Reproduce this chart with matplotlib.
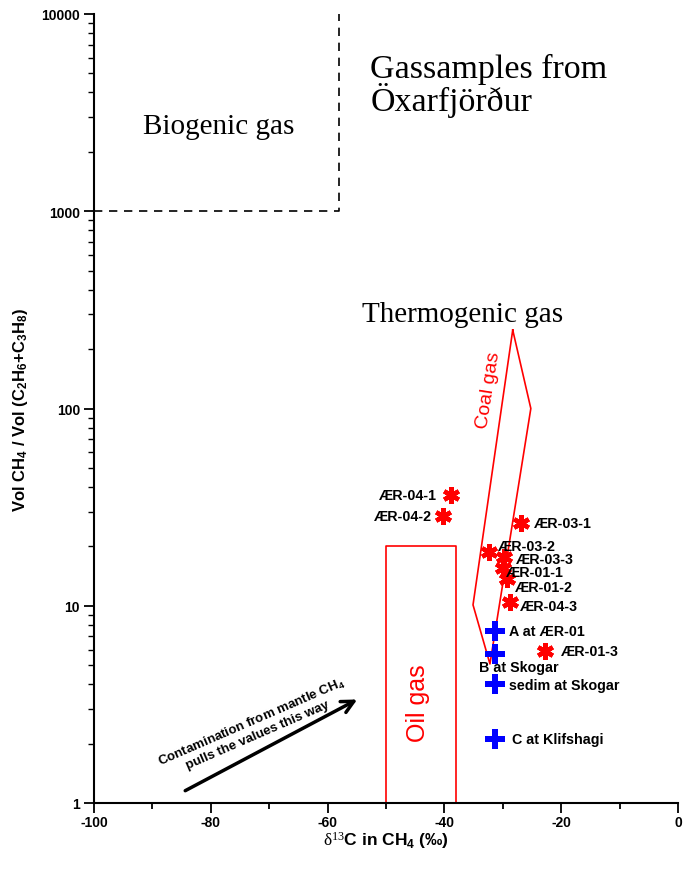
import matplotlib
matplotlib.use("Agg")
import matplotlib.pyplot as plt
from matplotlib.ticker import FixedLocator, LogLocator, NullFormatter, FixedFormatter

plt.rcParams['font.family'] = ['Liberation Sans', 'DejaVu Sans']
plt.rcParams['mathtext.fontset'] = 'custom'
plt.rcParams['mathtext.rm'] = 'Liberation Sans:bold'
plt.rcParams['mathtext.it'] = 'Liberation Sans:bold'
plt.rcParams['mathtext.bf'] = 'Liberation Sans:bold'
plt.rcParams['mathtext.sf'] = 'Liberation Serif'

# ---- data ----
star_labels = ['ÆR-04-1', 'ÆR-04-2', 'ÆR-03-1', 'ÆR-03-2', 'ÆR-03-3',
               'ÆR-01-1', 'ÆR-01-2', 'ÆR-04-3', 'ÆR-01-3']
star_d13c = [-38.9, -40.2, -26.9, -32.4, -29.8, -30.0, -29.3, -28.8, -22.7]
star_ratio = [36.4, 28.5, 26.3, 18.7, 17.6, 15.6, 13.7, 10.4, 5.9]

cross_labels = ['A at ÆR-01', 'B at Skogar', 'sedim at Skogar', 'C at Klifshagi']
cross_d13c = [-31.3, -31.3, -31.3, -31.3]
cross_ratio = [7.45, 5.69, 4.01, 2.11]

coal_x = [-28.3, -25.2, -32.2, -35.1, -28.3]
coal_y = [250, 100, 5.07, 10.1, 250]
oil_x = [-50, -50, -38, -38]
oil_y = [1, 20, 20, 1]
bio_x = [-100, -58, -58]
bio_y = [1000, 1000, 10000]

arrow_start = (-84.8, 1.137)
arrow_end = (-54.5, 3.4)

x_ticks = [-100, -80, -60, -40, -20, 0]
y_ticks = [1, 10, 100, 1000, 10000]

# label offsets in pixels (dx, dy) and alignment
star_offsets = [(-14, 0, 'right'), (-11, 0, 'right'), (13, 0, 'left'),
                (9, 6, 'left'), (12, -2, 'left'), (3, -4, 'left'),
                (8, -8, 'left'), (10, -4, 'left'), (16, 0, 'left')]
cross_offsets = [(14, 0, 'left'), (-16, -13, 'left'), (14, -1, 'left'), (17, 0, 'left')]

fig = plt.figure(figsize=(6.83, 8.70), dpi=100)
ax = fig.add_axes([94 / 683, 66 / 870, (678 - 94) / 683, (804 - 15) / 870])
ax.set_xlim(-100, 0)
ax.set_yscale('log')
ax.set_ylim(1, 10000)

for s in ['top', 'right']:
    ax.spines[s].set_visible(False)
for s in ['left', 'bottom']:
    ax.spines[s].set_linewidth(1.5)

ax.xaxis.set_major_locator(FixedLocator(x_ticks))
ax.xaxis.set_minor_locator(FixedLocator([-90, -70, -50, -30, -10]))
ax.set_xticklabels([str(v) for v in x_ticks], fontsize=10, fontweight='bold')
ax.yaxis.set_major_locator(FixedLocator(y_ticks))
ax.yaxis.set_major_formatter(FixedFormatter([str(v) for v in y_ticks]))
ax.yaxis.set_minor_locator(LogLocator(base=10, subs=range(2, 10)))
ax.yaxis.set_minor_formatter(NullFormatter())
for lab in ax.get_yticklabels():
    lab.set_fontsize(10)
    lab.set_fontweight('bold')
ax.tick_params(axis='both', which='major', length=7, width=1.3, direction='out')
ax.tick_params(axis='x', which='minor', length=4.5, width=1.3, direction='out')
ax.tick_params(axis='y', which='minor', length=4.5, width=1.0, direction='out')
ax.tick_params(axis='x', pad=2)
ax.tick_params(axis='y', pad=3)

ax.set_xlabel(r'$\mathsf{\delta^{13}}$C in CH$_4$ (‰)', fontsize=12.5, fontweight='bold', labelpad=0)
ax.set_ylabel(r'Vol CH$_4$ / Vol (C$_2$H$_6$+C$_3$H$_8$)', fontsize=12, fontweight='bold', labelpad=8)

# regions
ax.plot(bio_x, bio_y, color='black', linestyle=(0, (5, 4)), linewidth=1.2)
ax.plot(oil_x, oil_y, color='red', linewidth=1.2)
ax.plot(coal_x, coal_y, color='red', linewidth=1.2)

ax.text(-91.6, 2494, 'Biogenic gas', fontsize=21, family='Liberation Serif')
ax.text(-52.7, 4794, 'Gassamples from', fontsize=24.5, family='Liberation Serif')
ax.text(-52.7, 3250, 'Öxarfjörður', fontsize=24.5, family='Liberation Serif')
ax.text(-54.1, 277, 'Thermogenic gas', fontsize=21, family='Liberation Serif')
ax.text(-44.5, 3.25, 'Oil gas', fontsize=18, color='red', rotation=90, ha='center', va='center')
ax.text(-32.4, 125, 'Coal gas', fontsize=14, color='red', rotation=81, ha='center', va='center')

# arrow
ax.annotate('', xy=arrow_end, xytext=arrow_start,
            arrowprops=dict(arrowstyle='->', color='black', lw=2.5, mutation_scale=22))
ax.text(-72.6, 2.42, 'Contamination from mantle CH$_4$\npulls the values this way',
        fontsize=9.5, fontweight='bold', rotation=23.5, ha='center', va='center',
        rotation_mode='anchor', linespacing=1.1)

# points
ax.plot(star_d13c, star_ratio, linestyle='none', marker=(6, 2, 0), color='red',
        markersize=12, markeredgewidth=3.2)
ax.plot(cross_d13c, cross_ratio, linestyle='none', marker='P', color='blue',
        markersize=14, markeredgewidth=0)

for lbl, x, y, (dx, dy, ha) in zip(star_labels, star_d13c, star_ratio, star_offsets):
    ax.annotate(lbl, (x, y), xytext=(dx * 0.72, dy * 0.72), textcoords='offset points',
                ha=ha, va='center', fontsize=10.3, fontweight='bold')
for lbl, x, y, (dx, dy, ha) in zip(cross_labels, cross_d13c, cross_ratio, cross_offsets):
    ax.annotate(lbl, (x, y), xytext=(dx * 0.72, dy * 0.72), textcoords='offset points',
                ha=ha, va='center', fontsize=10.3, fontweight='bold')

fig.savefig('out.png', dpi=100)
